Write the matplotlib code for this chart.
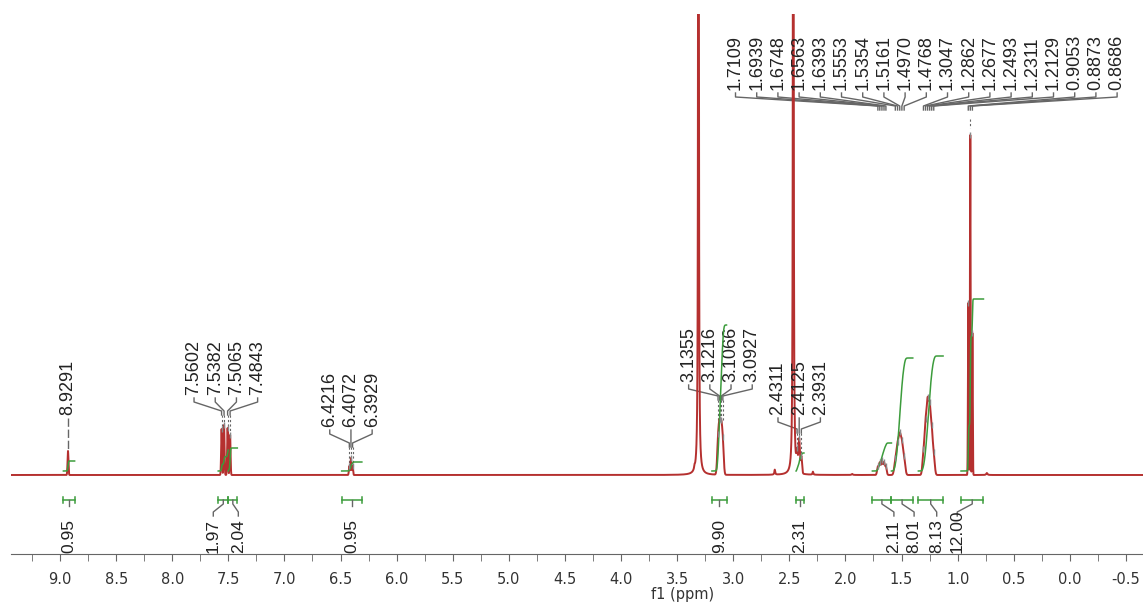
import numpy as np
import matplotlib.pyplot as plt
from matplotlib.ticker import MultipleLocator

plt.rcParams["axes.unicode_minus"] = False

# labelled peaks (ppm), their heights above baseline and line widths
shifts = [8.9291,
          7.5602, 7.5382, 7.5065, 7.4843,
          6.4216, 6.4072, 6.3929,
          3.1355, 3.1216, 3.1066, 3.0927,
          2.4311, 2.4125, 2.3931,
          1.7109, 1.6939, 1.6748, 1.6563, 1.6393,
          1.5553, 1.5354, 1.5161, 1.4970, 1.4768,
          1.3047, 1.2862, 1.2677, 1.2493, 1.2311, 1.2129,
          0.9053, 0.8873, 0.8686]
heights = [24,
           46, 50, 47, 40,
           9, 17, 9,
           31, 42, 41, 29,
           18, 33, 17,
           8, 12, 14, 12, 8,
           13, 26, 34, 28, 15,
           20, 46, 65, 60, 40, 18,
           172, 340, 142]
widths = [0.004,
          0.004, 0.004, 0.004, 0.004,
          0.004, 0.004, 0.004,
          0.008, 0.008, 0.008, 0.008,
          0.006, 0.006, 0.006,
          0.007, 0.007, 0.007, 0.007, 0.007,
          0.010, 0.010, 0.010, 0.010, 0.010,
          0.009, 0.009, 0.009, 0.009, 0.009, 0.009,
          0.003, 0.003, 0.003]
label_group = [0, 1, 1, 1, 1, 2, 2, 2, 3, 3, 3, 3, 4, 4, 4] + [5] * 19

# solvent (water, DMSO) and small impurity peaks
other_shifts = [3.31, 2.465, 3.345, 2.63, 2.29, 1.94, 0.74]
other_heights = [2500, 2500, 3, 5, 3, 1, 2]
other_widths = [0.002, 0.002, 0.004, 0.004, 0.004, 0.006, 0.006]

# integration regions
int_ranges = [(8.97, 8.87), (7.59, 7.50), (7.50, 7.42), (6.49, 6.31), (3.19, 3.06),
              (2.44, 2.37), (1.76, 1.59), (1.59, 1.40), (1.35, 1.13), (0.97, 0.77)]
int_values = [0.95, 1.97, 2.04, 0.95, 9.90, 2.31, 2.11, 8.01, 8.13, 12.00]
int_curve_tops = [14, 25, 27, 13, 150, 22, 32, 117, 119, 176]

RED = "#b5302f"
GREEN = "#3c9c3c"
GREY = "#666666"
PX = 1 / 112.2  # ppm per pixel

xmin, xmax = 9.437, -0.652


def gauss(x, x0, h, s):
    return h * np.exp(-0.5 * ((x - x0) / s) ** 2)


def lorentz(x, x0, h, w):
    return h * w ** 2 / ((x - x0) ** 2 + w ** 2)


def sample(x):
    y = np.zeros_like(x, dtype=float)
    for x0, h, s in zip(shifts, heights, widths):
        y += gauss(x, x0, h, s)
    return y


def full(x):
    y = sample(x)
    for x0, h, w in zip(other_shifts, other_heights, other_widths):
        y += lorentz(x, x0, h, w)
    return y


x = np.linspace(xmin, xmax, 60000)
y = full(x)

fig = plt.figure(figsize=(11.43, 6.06), dpi=100)
ax = fig.add_axes([11 / 1143, 52 / 606, 1132 / 1143, 540 / 606])
ax.set_xlim(xmin, xmax)
ax.set_ylim(-79, 461)

ax.plot(x, y, color=RED, lw=1.4, zorder=3)

# integral curves
for (a, b), top in zip(int_ranges, int_curve_tops):
    seg = np.linspace(a, b, 800)
    cum = np.cumsum(sample(seg))
    cum = cum / cum[-1]
    ax.plot(seg, 4 + (top - 4) * cum, color=GREEN, lw=1.1, zorder=4)

# peak labels
text_bottom = [60, 80, 48, 93, 60, 385]
join_y = [None, 60, 28, 75, 42, 365]
label_shift_px = [0, 0, 0, 0, 0, 11]
spacing = 21.2 * PX
shifts_arr = np.array(shifts)
groups = np.array(label_group)
for g in range(6):
    idx = np.where(groups == g)[0]
    n = len(idx)
    center = shifts_arr[idx].mean() - label_shift_px[g] * PX
    for k, i in enumerate(idx):
        lx = center + ((n - 1) / 2 - k) * spacing
        pk = shifts_arr[i]
        top = full(np.array([pk]))[0]
        ax.text(lx, text_bottom[g], f"{pk:.4f}", rotation=90, ha="center", va="bottom",
                fontsize=13, family="Liberation Sans", color="#222222")
        if join_y[g] is None:
            ax.plot([lx, pk], [text_bottom[g] - 3, top + 2], color=GREY, lw=1.0,
                    ls=(0, (6, 2)))
            continue
        yb = text_bottom[g] - 3
        yj = join_y[g]
        ax.plot([lx, lx, pk, pk], [yb, yb - 4, yj + 4, yj], color=GREY, lw=1.0)
        if g < 5:
            ax.plot([pk, pk], [yj, max(top, yj - 20)], color=GREY, lw=0.8, ls=(0, (2, 2)))
        ax.plot([pk], [min(top, yj)], marker="|", ms=5, color="#888888", zorder=5)
ax.plot([0.8873, 0.8873], [356, 347], color=GREY, lw=0.8, ls=(0, (2, 2)))

# integration bars and values
int_label_shift_px = [0, -10, 5.5, 0, 0, 0, 12, 12, 6, -15]
for (a, b), v, s in zip(int_ranges, int_values, int_label_shift_px):
    ax.plot([a, b], [-25, -25], color=GREEN, lw=1.1)
    for e in (a, b):
        ax.plot([e, e], [-22, -28], color=GREEN, lw=1.1)
    xc = (a + b) / 2
    xl = xc - s * PX
    if s == 0:
        ax.plot([xc, xc], [-25, -31], color=GREY, lw=1.0)
    else:
        ax.plot([xc, xc, xl, xl], [-25, -29, -37, -41], color=GREY, lw=1.0)
    ax.text(xl, -78, f"{v:.2f}", rotation=90, ha="center", va="bottom",
            fontsize=12.5, family="Liberation Sans", color="#222222")

for side in ("top", "left", "right"):
    ax.spines[side].set_visible(False)
ax.spines["bottom"].set_color(GREY)
ax.spines["bottom"].set_position(("data", -79))
ax.set_yticks([])
ax.xaxis.set_major_locator(MultipleLocator(0.5))
ax.xaxis.set_minor_locator(MultipleLocator(0.25))
ax.tick_params(axis="x", which="both", direction="out", length=5, color=GREY,
               labelsize=10.5, labelcolor="#333333", pad=8)
ax.set_xticks(np.arange(-0.5, 9.01, 0.5))
ax.set_xticklabels([f"{t:.1f}" for t in np.arange(-0.5, 9.01, 0.5)])

fig.text(683 / 1143, 1 - 594 / 606, "f1 (ppm)", ha="center", va="center",
         fontsize=10.5, color="#333333")

fig.savefig("out.png", dpi=100)
